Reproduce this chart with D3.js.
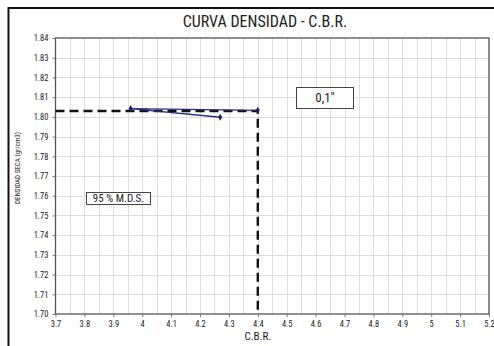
<!DOCTYPE html>
<html>
<head>
<meta charset="utf-8">
<script src="https://cdn.jsdelivr.net/npm/d3@7"></script>
<style>
  html, body { margin: 0; padding: 0; background: #fff; }
  svg { display: block; }
  text { font-family: "Liberation Sans Narrow", "Arial Narrow", "Roboto Condensed", "Liberation Sans", sans-serif; fill: #222; }
</style>
</head>
<body>
<script>
// Density vs. C.B.R. test points (in drawing order)
const cbrValues = [4.27, 3.96, 4.40];
const densityValues = [1.7998, 1.8042, 1.8033];

// 95 % of max. dry density and the resulting C.B.R.
const mdsLevel = 1.8030;
const cbrAtMds = 4.40;

const xTicks = [3.7, 3.8, 3.9, 4.0, 4.1, 4.2, 4.3, 4.4, 4.5, 4.6, 4.7, 4.8, 4.9, 5.0, 5.1, 5.2];
const yTicks = [1.70, 1.71, 1.72, 1.73, 1.74, 1.75, 1.76, 1.77, 1.78, 1.79, 1.80, 1.81, 1.82, 1.83, 1.84];

const W = 494, H = 346;
const plot = { left: 55.5, right: 489, top: 38, bottom: 314 };

const svg = d3.select("body").append("svg").attr("width", W).attr("height", H);

// outer frame (runs off the right and bottom edges)
svg.append("path")
  .attr("d", `M${W + 5},8 L8.5,8 L8.5,${H + 5}`)
  .attr("fill", "none").attr("stroke", "#111").attr("stroke-width", 2);

const x = d3.scaleLinear().domain([3.7, 5.2]).range([plot.left, plot.right]);
const y = d3.scaleLinear().domain([1.70, 1.84]).range([plot.bottom, plot.top]);

// grid
const g = svg.append("g");
const vGrid = d3.range(3.75, 5.2, 0.05);
g.selectAll("line.vg").data(vGrid).join("line")
  .attr("x1", d => Math.round(x(d)) + 0.5).attr("x2", d => Math.round(x(d)) + 0.5)
  .attr("y1", plot.top).attr("y2", plot.bottom)
  .attr("stroke", "#dcdcdc").attr("stroke-width", 1);
g.selectAll("line.hg").data(yTicks.slice(1, -1)).join("line")
  .attr("x1", plot.left).attr("x2", plot.right)
  .attr("y1", d => Math.round(y(d)) + 0.5).attr("y2", d => Math.round(y(d)) + 0.5)
  .attr("stroke", "#dcdcdc").attr("stroke-width", 1);

// plot border
svg.append("rect")
  .attr("x", plot.left).attr("y", plot.top)
  .attr("width", plot.right - plot.left).attr("height", plot.bottom - plot.top)
  .attr("fill", "none").attr("stroke", "#555").attr("stroke-width", 1.3);

// axes
const xAxis = svg.append("g").attr("transform", `translate(0,${plot.bottom})`)
  .call(d3.axisBottom(x).tickValues(xTicks).tickSize(3).tickPadding(4)
    .tickFormat(d => d3.format("")(+d.toFixed(1))));
const yAxis = svg.append("g").attr("transform", `translate(${plot.left},0)`)
  .call(d3.axisLeft(y).tickValues(yTicks).tickSize(3).tickPadding(4).tickFormat(d3.format(".2f")));
[xAxis, yAxis].forEach(a => {
  a.select(".domain").remove();
  a.selectAll(".tick line").attr("stroke", "#777");
  a.selectAll("text").style("font-size", "8.5px").attr("fill", "#333");
});

// title and axis labels
svg.append("text").attr("x", 265).attr("y", 27).attr("text-anchor", "middle")
  .style("font-size", "16px").text("CURVA DENSIDAD - C.B.R.");
svg.append("text").attr("x", x(4.4)).attr("y", 340).attr("text-anchor", "middle")
  .style("font-size", "11px").text("C.B.R.");
svg.append("text").attr("transform", `translate(20,168) rotate(-90)`).attr("text-anchor", "middle")
  .style("font-size", "7px").text("DENSIDAD SECA  (gr/cm3)");

// 95 % M.D.S. guide lines
const dash = { stroke: "#111", "stroke-width": 2.4, "stroke-dasharray": "9,5", fill: "none" };
const guide = svg.append("path")
  .attr("d", d3.line()([[x(3.7), y(mdsLevel)], [x(cbrAtMds), y(mdsLevel)], [x(cbrAtMds), y(1.70)]]));
Object.entries(dash).forEach(([k, v]) => guide.attr(k, v));

// data curve
const pts = cbrValues.map((c, i) => [x(c), y(densityValues[i])]);
svg.append("path").attr("d", d3.line()(pts))
  .attr("fill", "none").attr("stroke", "#2b2b7e").attr("stroke-width", 1.3);
svg.selectAll("path.pt").data(pts).join("path")
  .attr("transform", d => `translate(${d[0]},${d[1]})`)
  .attr("d", d3.symbol(d3.symbolDiamond, 14))
  .attr("fill", "#1f1f70");

// boxed labels
function boxLabel(x0, y0, w, h, txt, size) {
  svg.append("rect").attr("x", x0 + 0.5).attr("y", y0 + 0.5).attr("width", w).attr("height", h)
    .attr("fill", "#fff").attr("stroke", "#444").attr("stroke-width", 1);
  svg.append("text").attr("x", x0 + w / 2 + 0.5).attr("y", y0 + h / 2 + size * 0.36)
    .attr("text-anchor", "middle").style("font-size", size + "px").text(txt);
}
boxLabel(296, 87, 57, 21, "0,1\u2033", 13);
boxLabel(86, 192, 64, 12, "95 % M.D.S.", 11);
</script>
</body>
</html>
